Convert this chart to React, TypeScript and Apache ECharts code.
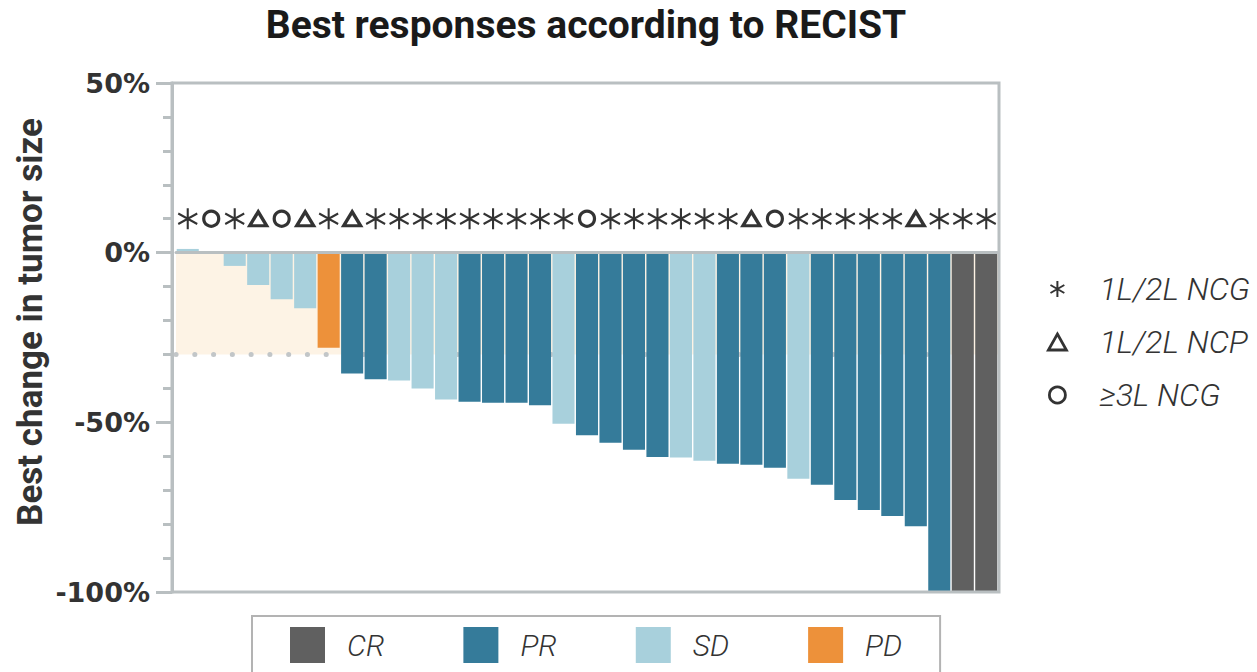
import React, { useEffect, useRef } from "react";
import * as echarts from "echarts";

const TITLE = "Best responses according to RECIST";
const Y_NAME = "Best change in tumor size";

const patients = [
  "P1", "P2", "P3", "P4", "P5", "P6", "P7", "P8", "P9", "P10",
  "P11", "P12", "P13", "P14", "P15", "P16", "P17", "P18", "P19", "P20",
  "P21", "P22", "P23", "P24", "P25", "P26", "P27", "P28", "P29", "P30",
  "P31", "P32", "P33", "P34", "P35",
];

const changes = [
  1.1, 0, -3.9, -9.5, -13.7, -16.4, -28, -35.6, -37.3, -37.7,
  -40, -43.3, -43.9, -44.2, -44.2, -45, -50.4, -53.8, -56, -58.1,
  -60.2, -60.4, -61.3, -62.2, -62.5, -63.4, -66.6, -68.4, -72.9, -75.8,
  -77.6, -80.6, -100, -100, -100,
];

const responses = [
  "SD", "SD", "SD", "SD", "SD", "SD", "PD", "PR", "PR", "SD",
  "SD", "SD", "PR", "PR", "PR", "PR", "SD", "PR", "PR", "PR",
  "PR", "SD", "SD", "PR", "PR", "PR", "SD", "PR", "PR", "PR",
  "PR", "PR", "PR", "CR", "CR",
];

const lines = [
  "NCG", "G3", "NCG", "NCP", "G3", "NCP", "NCG", "NCP", "NCG", "NCG",
  "NCG", "NCG", "NCG", "NCG", "NCG", "NCG", "NCG", "G3", "NCG", "NCG",
  "NCG", "NCG", "NCG", "NCG", "NCP", "G3", "NCG", "NCG", "NCG", "NCG",
  "NCG", "NCP", "NCG", "NCG", "NCG",
];

const responseTypes = ["CR", "PR", "SD", "PD"];
const responseColors: Record<string, string> = {
  CR: "#606060",
  PR: "#357b9a",
  SD: "#a8d0dc",
  PD: "#ed913a",
};

const lineTypes = ["NCG", "NCP", "G3"];
const lineNames: Record<string, string> = {
  NCG: "1L/2L NCG",
  NCP: "1L/2L NCP",
  G3: "≥3L NCG",
};

const Y_MIN = -100;
const Y_MAX = 50;
const Y_INTERVAL = 50;
const PR_THRESHOLD = -30;
const MARK_LEVEL = 10;

const ASTERISK = "path://M0,-10L0,10M-8.66,-5L8.66,5M-8.66,5L8.66,-5";
const lineSymbols: Record<string, any> = {
  NCG: { symbol: ASTERISK, size: [19, 21], width: 2.2, legendWidth: 2 },
  NCP: { symbol: "triangle", size: [17, 14], width: 3.2, legendWidth: 2.8 },
  G3: { symbol: "circle", size: [15, 15], width: 3.2, legendWidth: 2.8 },
};

const AXIS_GRAY = "#b9bfc1";
const TEXT_DARK = "#333333";

export default function App() {
  const ref = useRef<HTMLDivElement>(null);

  useEffect(() => {
    if (!ref.current) return;
    const chart = echarts.init(ref.current, undefined, { renderer: "svg" });

    const barSeries = responseTypes.map((r, idx) => {
      const s: any = {
        name: r,
        type: "bar",
        stack: "resp",
        barCategoryGap: "6%",
        z: 2,
        itemStyle: { color: responseColors[r] },
        data: changes.map((v, i) => (responses[i] === r ? v : "-")),
      };
      if (idx === 0) {
        s.markArea = {
          silent: true,
          z: 1,
          itemStyle: { color: "#fdf3e5" },
          data: [[{ yAxis: 0 }, { yAxis: PR_THRESHOLD }]],
        };
        s.markLine = {
          silent: true,
          z: 1.5,
          symbol: ["none", "none"],
          label: { show: false },
          lineStyle: {
            color: "#c2c6c8",
            width: 5,
            type: [0.1, 18.67],
            cap: "round",
          },
          data: [{ yAxis: PR_THRESHOLD }],
        };
      }
      return s;
    });

    const markSeries = lineTypes.map((t) => ({
      name: lineNames[t],
      type: "scatter",
      z: 6,
      symbol: lineSymbols[t].symbol,
      symbolSize: lineSymbols[t].size,
      itemStyle: {
        color: "transparent",
        borderColor: "#333333",
        borderWidth: lineSymbols[t].width,
        opacity: 1,
      },
      data: lines.map((l) => (l === t ? MARK_LEVEL : "-")),
    }));

    const option: any = {
      animation: false,
      title: {
        text: TITLE,
        left: 581,
        top: 0,
        textAlign: "center",
        textStyle: {
          fontFamily: "Roboto",
          fontWeight: "bold",
          fontSize: 39,
          color: "#1a1a1a",
        },
      },
      grid: { left: 176, right: 259, top: 83, bottom: 80 },
      xAxis: {
        type: "category",
        data: patients,
        z: 10,
        axisLine: { onZero: true, lineStyle: { color: AXIS_GRAY, width: 3 } },
        axisTick: { show: false },
        axisLabel: { show: false },
        splitLine: { show: false },
      },
      yAxis: {
        type: "value",
        min: Y_MIN,
        max: Y_MAX,
        interval: Y_INTERVAL,
        offset: 4,
        axisLine: { show: true, lineStyle: { color: AXIS_GRAY, width: 3 } },
        axisTick: { show: true, length: 16, lineStyle: { color: AXIS_GRAY, width: 3 } },
        minorTick: { show: true, splitNumber: 5, length: 9, lineStyle: { color: AXIS_GRAY, width: 3 } },
        splitLine: { show: false },
        axisLabel: {
          formatter: "{value}%",
          margin: 22,
          fontFamily: "DejaVu Sans",
          fontWeight: "bold",
          fontSize: 27,
          color: TEXT_DARK,
        },
      },
      legend: [
        {
          data: responseTypes,
          orient: "horizontal",
          left: 252,
          top: 616,
          icon: "rect",
          itemWidth: 35,
          itemHeight: 36,
          itemGap: 79,
          padding: [11, 38, 12, 38],
          borderColor: "#b3b3b3",
          borderWidth: 2,
          selectedMode: false,
          textStyle: {
            fontFamily: "Roboto",
            fontStyle: "italic",
            fontWeight: 300,
            fontSize: 30,
            color: TEXT_DARK,
            padding: [0, 0, 0, 17],
          },
        },
        {
          data: lineTypes.map((t) => ({
            name: lineNames[t],
            itemStyle: {
              color: "transparent",
              borderColor: "#333333",
              borderWidth: lineSymbols[t].legendWidth,
            },
          })),
          orient: "vertical",
          left: 1042,
          top: 266,
          itemWidth: 18,
          itemHeight: 16,
          itemGap: 17,
          selectedMode: false,
          textStyle: {
            fontFamily: "Roboto",
            fontStyle: "italic",
            fontWeight: 300,
            fontSize: 32,
            lineHeight: 36,
            color: TEXT_DARK,
            padding: [0, 0, 0, 28],
          },
        },
      ],
      graphic: [
        {
          type: "rect",
          silent: true,
          z: 20,
          shape: { x: 172, y: 83, width: 827, height: 509 },
          style: { fill: "none", stroke: AXIS_GRAY, lineWidth: 3 },
        },
        {
          type: "text",
          silent: true,
          x: 30,
          y: 322,
          rotation: Math.PI / 2,
          style: {
            text: Y_NAME,
            fontFamily: "Roboto",
            fontWeight: "bold",
            fontSize: 35,
            fill: TEXT_DARK,
            align: "center",
            verticalAlign: "middle",
          },
        },
      ],
      series: [...barSeries, ...markSeries],
    };

    chart.setOption(option);
    return () => chart.dispose();
  }, []);

  return (
    <div
      ref={ref}
      style={{ position: "absolute", left: 0, top: 0, width: 1257, height: 672 }}
    />
  );
}
